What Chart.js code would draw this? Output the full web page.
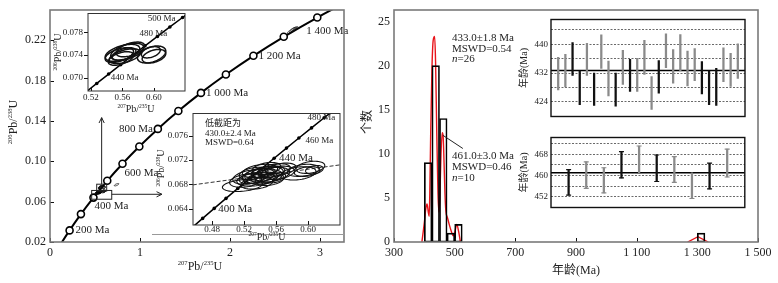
<!DOCTYPE html>
<html lang="zh-CN">
<head>
<meta charset="utf-8">
<title>U-Pb concordia and age histogram</title>
<script src="https://cdn.jsdelivr.net/npm/chart.js@4.4.1/dist/chart.umd.min.js"></script>
<style>
  body { margin: 0; background: #fff; }
  #wrap { position: relative; width: 778px; height: 283px; overflow: hidden; background: #fff; }
  #wrap canvas { position: absolute; }
</style>
</head>
<body>
<div id="wrap">
  <canvas id="concordia" width="365" height="283" style="left:0;top:0"></canvas>
  <canvas id="zoom461" width="140" height="112" style="left:50px;top:4px"></canvas>
  <canvas id="zoom433" width="195" height="138" style="left:150px;top:104px"></canvas>
  <canvas id="histo" width="418" height="283" style="left:360px;top:0"></canvas>
  <canvas id="wm433" width="235" height="112" style="left:515px;top:12px"></canvas>
  <canvas id="wm461" width="235" height="85" style="left:515px;top:130px"></canvas>
</div>

<script>
// ---------------- data ----------------

// concordia reference points (age Ma, 207Pb/235U, 206Pb/238U), 100 Ma steps
const concAge = [0, 100, 200, 300, 400, 500, 600, 700, 800, 900, 1000, 1100, 1200, 1300, 1400, 1500];
const conc207 = [0, 0.1035, 0.2177, 0.3437, 0.4828, 0.6363, 0.8056, 0.9925, 1.1987, 1.4263, 1.6774, 1.9545, 2.2603, 2.5977, 2.9701, 3.3810];
const conc206 = [0, 0.01563, 0.03151, 0.04764, 0.06402, 0.08065, 0.09754, 0.11470, 0.13213, 0.14983, 0.16782, 0.18606, 0.20460, 0.22344, 0.24256, 0.26199];
const concLabelAge = [200, 400, 600, 800, 1000, 1200, 1400];
const concLabelText = ['200 Ma', '400 Ma', '600 Ma', '800 Ma', '1 000 Ma', '1 200 Ma', '1 400 Ma'];

// 10 Ma steps for the enlarged views
const fineAge = [380, 390, 400, 410, 420, 430, 440, 450, 460, 470, 480, 490, 500, 510];
const fine207 = [0.4539, 0.4683, 0.4828, 0.4975, 0.5123, 0.5273, 0.5424, 0.5577, 0.5731, 0.5886, 0.6044, 0.6202, 0.6363, 0.6525];
const fine206 = [0.06072, 0.06237, 0.06402, 0.06567, 0.06732, 0.06898, 0.07064, 0.07230, 0.07397, 0.07563, 0.07730, 0.07898, 0.08065, 0.08233];

// spots: [207Pb/235U, 206Pb/238U, half-width 207, half-width 206, rho]
const spots433 = [
  [0.518, 0.0678, 0.025, 0.0010, 0.3], [0.522, 0.0686, 0.020, 0.0011, 0.3],
  [0.528, 0.0692, 0.022, 0.0012, 0.35], [0.532, 0.0698, 0.018, 0.0010, 0.35],
  [0.535, 0.0688, 0.024, 0.0011, 0.3], [0.538, 0.0694, 0.020, 0.0012, 0.35],
  [0.540, 0.0702, 0.022, 0.0011, 0.35], [0.543, 0.0690, 0.019, 0.0010, 0.3],
  [0.545, 0.0697, 0.024, 0.0012, 0.35], [0.548, 0.0693, 0.020, 0.0011, 0.3],
  [0.550, 0.0700, 0.021, 0.0010, 0.35], [0.552, 0.0688, 0.018, 0.0010, 0.3],
  [0.555, 0.0696, 0.022, 0.0012, 0.35], [0.558, 0.0703, 0.020, 0.0011, 0.35],
  [0.548, 0.0706, 0.018, 0.0010, 0.35], [0.562, 0.0699, 0.021, 0.0011, 0.3],
  [0.566, 0.0705, 0.019, 0.0010, 0.35], [0.536, 0.0682, 0.020, 0.0010, 0.3],
  [0.544, 0.0699, 0.015, 0.0008, 0.3], [0.530, 0.0690, 0.016, 0.0009, 0.3],
  [0.556, 0.0691, 0.016, 0.0009, 0.3], [0.588, 0.0698, 0.022, 0.0011, 0.3],
  [0.594, 0.0703, 0.020, 0.0010, 0.3], [0.599, 0.0701, 0.016, 0.0008, 0.3],
  [0.603, 0.0708, 0.018, 0.0010, 0.3], [0.608, 0.0704, 0.011, 0.0007, 0.3]
];
const spots461 = [
  [0.556, 0.0740, 0.018, 0.0013, 0.5], [0.560, 0.0744, 0.022, 0.0015, 0.5],
  [0.563, 0.0738, 0.020, 0.0013, 0.5], [0.566, 0.0746, 0.021, 0.0015, 0.5],
  [0.562, 0.0742, 0.015, 0.0011, 0.5], [0.570, 0.0750, 0.018, 0.0013, 0.5],
  [0.558, 0.0734, 0.016, 0.0012, 0.5], [0.597, 0.0741, 0.018, 0.0015, 0.4],
  [0.600, 0.0738, 0.015, 0.0012, 0.4], [0.596, 0.0745, 0.012, 0.0010, 0.4]
];
const spotsOther = [
  [0.74, 0.0768, 0.025, 0.0012, 0.7],
  [2.68, 0.2296, 0.045, 0.0030, 0.9], [2.70, 0.2305, 0.040, 0.0028, 0.9], [2.72, 0.2310, 0.035, 0.0025, 0.9]
];

// discordia through the 433 Ma group (lower intercept 430 Ma)
const discX = [0.456, 0.640];
const discY = [0.0679, 0.0712];

// age histogram (Ma)
const binStart = [400, 425, 450, 475, 500, 1300];
const binCount = [9, 20, 14, 1, 2, 1];
const binWidth = 25;
const pdfAge = [392, 400, 405, 409, 413, 416, 418, 421, 425, 429, 434, 437, 441, 445, 448, 451, 455, 459, 462, 465, 468, 471, 476, 482, 489, 495, 501, 507, 513, 519];
const pdfVal = [0, 2.2, 3.8, 4.3, 3.4, 2.9, 5.5, 12.4, 19.5, 22.8, 23.3, 20.5, 12.4, 5.5, 3.4, 5.0, 10.0, 12.4, 12.0, 9.0, 5.5, 3.5, 2.8, 2.0, 1.2, 0.7, 1.2, 2.0, 1.2, 0];
const pdfOldAge = [1268, 1302, 1336];
const pdfOldVal = [0, 0.6, 0];
const histXTicks = [300, 500, 700, 900, 1100, 1300, 1500];
const histXLabels = ['300', '500', '700', '900', '1 100', '1 300', '1 500'];
const histYTicks = [0, 5, 10, 15, 20, 25];

// weighted mean ages (2 sigma ranges, Ma)
const wm433Hi = [436.4, 437.2, 440.5, 432.6, 440.3, 432.0, 442.6, 435.3, 432.0, 438.3, 435.8, 436.1, 441.1, 431.0, 435.5, 442.9, 438.5, 442.7, 438.1, 438.8, 435.2, 432.6, 433.3, 439.0, 437.5, 440.1];
const wm433Lo = [427.3, 428.1, 431.3, 423.2, 431.3, 423.0, 433.3, 425.6, 422.8, 428.8, 426.9, 426.9, 431.6, 421.9, 426.4, 433.5, 429.2, 432.6, 428.4, 429.9, 426.2, 423.2, 423.0, 429.6, 428.3, 430.5];
const wm433Dark = [0, 0, 1, 1, 0, 1, 0, 0, 1, 0, 1, 0, 0, 0, 1, 0, 0, 0, 0, 0, 1, 1, 1, 0, 0, 0];
const wm433Mean = 432.7;
const wm461Hi = [462.2, 465.1, 462.9, 469.0, 471.1, 467.7, 467.1, 461.0, 464.6, 469.9];
const wm461Lo = [452.6, 455.1, 453.4, 459.1, 461.0, 457.7, 457.4, 451.3, 454.9, 459.4];
const wm461Dark = [1, 0, 0, 1, 0, 1, 0, 0, 1, 0];
const wm461Mean = 461.0;

// ---------------- helpers ----------------
const SERIF = '"Liberation Serif", "Times New Roman", serif';
const CJK = '"Liberation Serif", "Noto Sans CJK SC", serif';
const INK = '#222';
const R206 = [{t: '206', sup: 1}, {t: 'Pb/'}, {t: '238', sup: 1}, {t: 'U'}];
const R207 = [{t: '207', sup: 1}, {t: 'Pb/'}, {t: '235', sup: 1}, {t: 'U'}];

Chart.defaults.font.family = SERIF;
Chart.defaults.color = INK;

const base = {
  responsive: false, animation: false, devicePixelRatio: 1, events: [],
  plugins: { legend: { display: false }, tooltip: { enabled: false } }
};

function axis(min, max, ticks, labels, size, fit, pad, extra) {
  return Object.assign({
    type: 'linear', min: min, max: max, offset: false,
    afterBuildTicks: s => { s.ticks = ticks.map(v => ({ value: v })); },
    afterFit: s => { if (s.isHorizontal()) s.height = fit; else s.width = fit; },
    grid: { display: false, drawTicks: false },
    border: { display: false },
    ticks: {
      autoSkip: false, maxRotation: 0, padding: pad, color: INK,
      font: { family: SERIF, size: size, lineHeight: 1 },
      callback: (v, i) => labels[i]
    }
  }, extra || {});
}

function text(c, s, x, y, size, align, cjk, italic) {
  c.font = (italic ? 'italic ' : '') + size + 'px ' + (cjk ? CJK : SERIF);
  c.textAlign = align || 'left';
  c.textBaseline = 'middle';
  c.fillStyle = INK;
  c.fillText(s, x, y);
}

function vtext(c, s, x, y, size, cjk) {
  c.save();
  c.translate(x, y);
  c.rotate(-Math.PI / 2);
  text(c, s, 0, 0, size, 'center', cjk);
  c.restore();
}

function ratioLabel(c, parts, x, y, size, vertical) {
  c.save();
  c.translate(x, y);
  if (vertical) c.rotate(-Math.PI / 2);
  c.fillStyle = INK;
  c.textBaseline = 'alphabetic';
  c.textAlign = 'left';
  const fontOf = p => (p.sup ? size * 0.55 : size) + 'px ' + SERIF;
  let w = 0;
  parts.forEach(p => { c.font = fontOf(p); w += c.measureText(p.t).width; });
  let cx = -w / 2;
  parts.forEach(p => {
    c.font = fontOf(p);
    c.fillText(p.t, cx, size * 0.35 - (p.sup ? size * 0.4 : 0));
    cx += c.measureText(p.t).width;
  });
  c.restore();
}

function drawEllipses(chart, spots, width) {
  const c = chart.ctx, a = chart.chartArea, xs = chart.scales.x, ys = chart.scales.y;
  c.save();
  c.beginPath();
  c.rect(a.left, a.top, a.width, a.height);
  c.clip();
  c.strokeStyle = '#111';
  c.lineWidth = width;
  spots.forEach(s => {
    const k = Math.sqrt(1 - s[4] * s[4]);
    c.beginPath();
    for (let i = 0; i <= 64; i++) {
      const t = i / 64 * 2 * Math.PI;
      const px = xs.getPixelForValue(s[0] + s[2] * Math.cos(t));
      const py = ys.getPixelForValue(s[1] + s[3] * (s[4] * Math.cos(t) + k * Math.sin(t)));
      if (i) c.lineTo(px, py); else c.moveTo(px, py);
    }
    c.closePath();
    c.stroke();
  });
  c.restore();
}

function arrow(c, x1, y1, x2, y2, head) {
  c.beginPath();
  c.moveTo(x1, y1);
  c.lineTo(x2, y2);
  const ang = Math.atan2(y2 - y1, x2 - x1);
  c.moveTo(x2 - head * Math.cos(ang - 0.45), y2 - head * Math.sin(ang - 0.45));
  c.lineTo(x2, y2);
  c.lineTo(x2 - head * Math.cos(ang + 0.45), y2 - head * Math.sin(ang + 0.45));
  c.stroke();
}

// white backing, frame, tick marks and free drawing
function decor(id, o) {
  return {
    id: id,
    beforeDraw(chart) {
      if (!o.white) return;
      const c = chart.ctx, a = chart.chartArea, w = o.white;
      c.save();
      c.fillStyle = '#fff';
      c.fillRect(a.left - w[0], a.top - w[1], a.width + w[0] + w[2], a.height + w[1] + w[3]);
      c.restore();
    },
    afterDraw(chart) {
      const c = chart.ctx, a = chart.chartArea, xs = chart.scales.x, ys = chart.scales.y;
      c.save();
      c.strokeStyle = '#111';
      c.lineWidth = 1;
      c.beginPath();
      if (o.xTick) xs.ticks.forEach(t => {
        const p = Math.round(xs.getPixelForValue(t.value)) + 0.5;
        c.moveTo(p, a.bottom); c.lineTo(p, a.bottom - o.xTick);
      });
      if (o.yTick) ys.ticks.forEach(t => {
        const p = Math.round(ys.getPixelForValue(t.value)) + 0.5;
        c.moveTo(a.left, p); c.lineTo(a.left + o.yTick, p);
      });
      c.stroke();
      if (o.draw) o.draw(chart, c, a, xs, ys);
      c.strokeStyle = o.frame;
      c.lineWidth = o.frameW;
      c.strokeRect(a.left, a.top, a.width, a.height);
      c.restore();
    }
  };
}

const pts = (xs, ys) => xs.map((v, i) => ({ x: v, y: ys[i] }));
const el = id => document.getElementById(id);

// ---------------- concordia (main) ----------------
const mainLabelOffset = [[6, 0, 'left'], [1, 9, 'left'], [2, 9, 'left'], [-5, 0, 'right'], [5, 0, 'left'], [5, 0, 'left'], [-11, 14, 'left']];

new Chart(el('concordia'), {
  type: 'line',
  data: { datasets: [{
    data: pts(conc207, conc206),
    borderColor: '#000', borderWidth: 2,
    cubicInterpolationMode: 'monotone',
    pointRadius: concAge.map(a => (a >= 200 && a <= 1400 ? 3.5 : 0)),
    pointBackgroundColor: '#fff', pointBorderColor: '#000', pointBorderWidth: 1.6
  }] },
  options: Object.assign({}, base, {
    layout: { padding: { left: 0, top: 5, right: 21, bottom: 0 } },
    scales: {
      x: axis(0, 3.267, [0, 1, 2, 3], ['0', '1', '2', '3'], 12, 41, 5),
      y: axis(0.02, 0.25, [0.02, 0.06, 0.10, 0.14, 0.18, 0.22], ['0.02', '0.06', '0.10', '0.14', '0.18', '0.22'], 12, 50, 4)
    }
  }),
  plugins: [decor('concDecor', {
    xTick: 4, yTick: 4, frame: '#7a7a7a', frameW: 1.6,
    draw(chart, c, a, xs, ys) {
      drawEllipses(chart, spots433.concat(spots461, spotsOther), 0.8);
      const X = v => xs.getPixelForValue(v), Y = v => ys.getPixelForValue(v);
      c.strokeStyle = '#222';
      c.lineWidth = 1;
      // outlines of the enlarged areas and pointers to them
      c.strokeRect(X(0.463), Y(0.0711), X(0.686) - X(0.463), Y(0.0624) - Y(0.0711));
      c.strokeRect(X(0.519), Y(0.0773), X(0.630) - X(0.519), Y(0.0705) - Y(0.0773));
      arrow(c, X(0.574), Y(0.0773), X(0.574), Y(0.1433), 6);
      arrow(c, X(0.686), Y(0.0673), X(1.244), Y(0.0673), 6);
      concLabelAge.forEach((age, i) => {
        const k = concAge.indexOf(age), o = mainLabelOffset[i];
        text(c, concLabelText[i], X(conc207[k]) + o[0], Y(conc206[k]) + o[1], 11, o[2]);
      });
      ratioLabel(c, R206, 13, 122, 12, true);
      ratioLabel(c, R207, 200, 266, 12, false);
    }
  })]
});

// ---------------- enlarged view, 461 Ma group ----------------
const z461Label = [[440, '440 Ma', 2, 4, 'left'], [480, '480 Ma', -18, -3, 'left'], [500, '500 Ma', -7, 1, 'right']];

new Chart(el('zoom461'), {
  type: 'line',
  data: { datasets: [{
    data: pts(fine207, fine206),
    borderColor: '#000', borderWidth: 1.5,
    pointRadius: 1.8, pointBackgroundColor: '#000', pointBorderWidth: 0
  }] },
  options: Object.assign({}, base, {
    layout: { padding: { left: 0, top: 4, right: 5, bottom: 0 } },
    scales: {
      x: axis(0.5162, 0.6394, [0.52, 0.56, 0.60], ['0.52', '0.56', '0.60'], 9, 25, 2),
      y: axis(0.06764, 0.08136, [0.070, 0.074, 0.078], ['0.070', '0.074', '0.078'], 9, 38, 5)
    }
  }),
  plugins: [decor('z461Decor', {
    white: [0, 0, 0, 0], xTick: 3, yTick: -4, frame: '#333', frameW: 1,
    draw(chart, c, a, xs, ys) {
      drawEllipses(chart, spots461, 1.5);
      z461Label.forEach(l => {
        const k = fineAge.indexOf(l[0]);
        text(c, l[1], xs.getPixelForValue(fine207[k]) + l[2], ys.getPixelForValue(fine206[k]) + l[3], 9, l[4]);
      });
      ratioLabel(c, R206, 7, 48, 10, true);
      ratioLabel(c, R207, 86, 104, 10, false);
    }
  })]
});

// ---------------- enlarged view, 433 Ma group ----------------
const z433Label = [[400, '400 Ma', 4, 1, 'left', 11], [440, '440 Ma', 17, -10, 'left', 11], [460, '460 Ma', 19, -7, 'left', 9], [480, '480 Ma', -4, -10, 'left', 9]];

new Chart(el('zoom433'), {
  type: 'line',
  data: { datasets: [{
    data: pts(fine207, fine206),
    borderColor: '#000', borderWidth: 1.5,
    pointRadius: 1.8, pointBackgroundColor: '#000', pointBorderWidth: 0
  }, {
    data: pts(discX, discY),
    borderColor: '#333', borderWidth: 1, borderDash: [4, 2], pointRadius: 0
  }] },
  options: Object.assign({}, base, {
    layout: { padding: { left: 0, top: 6, right: 5, bottom: 0 } },
    scales: {
      x: axis(0.45625, 0.64, [0.48, 0.52, 0.56, 0.60], ['0.48', '0.52', '0.56', '0.60'], 9, 17, 0),
      y: axis(0.06128, 0.07968, [0.064, 0.068, 0.072, 0.076], ['0.064', '0.068', '0.072', '0.076'], 9, 43, 5)
    }
  }),
  plugins: [decor('z433Decor', {
    white: [0, 0, 0, 9], xTick: 4, yTick: -4, frame: '#333', frameW: 1,
    draw(chart, c, a, xs, ys) {
      drawEllipses(chart, spots433, 1.1);
      z433Label.forEach(l => {
        const k = fineAge.indexOf(l[0]);
        text(c, l[1], xs.getPixelForValue(fine207[k]) + l[2], ys.getPixelForValue(fine206[k]) + l[3], l[5], l[4]);
      });
      text(c, '低截距为', a.left + 12, a.top + 10, 9, 'left', true);
      text(c, '430.0±2.4 Ma', a.left + 12, a.top + 20, 9, 'left');
      text(c, 'MSWD=0.64', a.left + 12, a.top + 29, 9, 'left');
      c.strokeStyle = '#999';
      c.beginPath();
      c.moveTo(2, a.bottom + 9.5);
      c.lineTo(194, a.bottom + 9.5);
      c.stroke();
      ratioLabel(c, R206, 10, 64, 10, true);
      ratioLabel(c, R207, 117, 132, 10, false);
    }
  })]
});

// ---------------- age histogram ----------------
new Chart(el('histo'), {
  type: 'bar',
  data: { datasets: [{
    type: 'line', order: 2,
    data: pts(pdfAge, pdfVal),
    borderColor: '#e8141b', borderWidth: 1.4, pointRadius: 0, cubicInterpolationMode: 'monotone'
  }, {
    type: 'line', order: 2,
    data: pts(pdfOldAge, pdfOldVal),
    borderColor: '#e8141b', borderWidth: 1.4, pointRadius: 0
  }, {
    type: 'bar', order: 1,
    data: binStart.map((s, i) => ({ x: s + binWidth / 2, y: binCount[i] })),
    backgroundColor: 'rgba(0,0,0,0)', borderColor: '#000', borderWidth: 1, borderSkipped: false,
    barPercentage: 1, categoryPercentage: 1
  }] },
  options: Object.assign({}, base, {
    layout: { padding: { left: 0, top: 5, right: 20, bottom: 0 } },
    scales: {
      x: axis(300, 1500, histXTicks, histXLabels, 12, 41, 5),
      y: axis(0, 26.3, histYTicks, histYTicks.map(String), 12, 34, 4)
    }
  }),
  plugins: [decor('histDecor', {
    xTick: 4, frame: '#7a7a7a', frameW: 1.6,
    draw(chart, c, a, xs, ys) {
      const X = v => xs.getPixelForValue(v), Y = v => ys.getPixelForValue(v);
      text(c, '433.0±1.8 Ma', X(491), Y(23.1), 11);
      text(c, 'MSWD=0.54', X(491), Y(21.9), 11);
      text(c, 'n', X(491), Y(20.7), 11, 'left', false, true);
      text(c, '=26', X(491) + 5.5, Y(20.7), 11);
      c.strokeStyle = '#222';
      c.lineWidth = 1;
      c.beginPath();
      c.moveTo(X(461), Y(12.1));
      c.lineTo(X(527), Y(10.6));
      c.stroke();
      text(c, '461.0±3.0 Ma', X(491), Y(9.7), 11);
      text(c, 'MSWD=0.46', X(491), Y(8.45), 11);
      text(c, 'n', X(491), Y(7.2), 11, 'left', false, true);
      text(c, '=10', X(491) + 5.5, Y(7.2), 11);
      vtext(c, '个数', 8, 122, 12, true);
      text(c, '年龄(Ma)', 216, 271, 12, 'center', true);
    }
  })]
});

// ---------------- weighted mean plots ----------------
function wmChart(id, hi, lo, dark, mean, yMin, yMax, grid, labelled, caps) {
  const n = hi.length;
  const colors = dark.map(d => (d ? '#111' : '#8a8a8a'));
  const datasets = [{
    type: 'bar',
    data: hi.map((h, i) => ({ x: i + 1, y: [lo[i], h] })),
    backgroundColor: colors, borderWidth: 0, barThickness: 1.6
  }, {
    type: 'line',
    data: [{ x: 0, y: mean }, { x: n + 1, y: mean }],
    borderColor: '#000', borderWidth: 1.4, pointRadius: 0
  }];
  if (caps) {
    datasets.push({
      type: 'line', showLine: false,
      data: hi.map((h, i) => ({ x: i + 1, y: h })).concat(lo.map((l, i) => ({ x: i + 1, y: l }))),
      pointStyle: 'line', pointRadius: 2.5, pointBorderWidth: 1.2,
      pointBorderColor: colors.concat(colors)
    });
  }
  const yAxis = axis(yMin, yMax, grid, grid.map(v => (labelled.includes(v) ? String(v) : '')), 9, 36, 3);
  yAxis.grid = { display: true, drawTicks: false, color: '#444', lineWidth: 0.8 };
  yAxis.border = { display: false, dash: [2, 1.5] };
  const xAxis = axis(0, n + 1, [], [], 9, 0, 0);
  xAxis.display = false;
  return new Chart(el(id), {
    type: 'bar',
    data: { datasets: datasets },
    options: Object.assign({}, base, {
      layout: { padding: { left: 0, top: 4, right: 5, bottom: 4 } },
      scales: { x: xAxis, y: yAxis }
    }),
    plugins: [decor(id + 'Decor', {
      white: [0, 0, 0, 0], frame: '#111', frameW: 1.4,
      draw(chart, c, a) {
        vtext(c, '年龄(Ma)', 9, (a.top + a.bottom) / 2, 10, true);
      }
    })]
  });
}

wmChart('wm433', wm433Hi, wm433Lo, wm433Dark, wm433Mean, 419.9, 446.9, [424, 428, 432, 436, 440, 444], [424, 432, 440], false);
wmChart('wm461', wm461Hi, wm461Lo, wm461Dark, wm461Mean, 447.9, 474.3, [452, 456, 460, 464, 468, 472], [452, 460, 468], true);
</script>
</body>
</html>
